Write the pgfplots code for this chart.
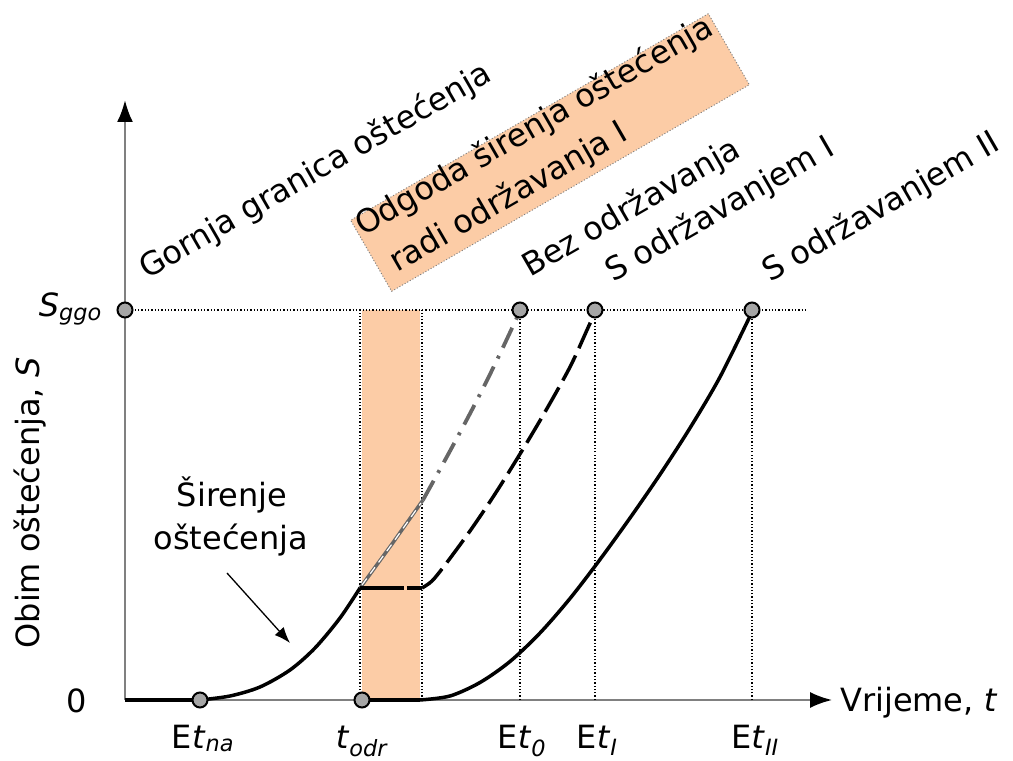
\documentclass[border=0pt]{standalone}
\usepackage{fontspec}
\setmainfont{DejaVu Sans}[ItalicFont={DejaVu Sans Oblique}]
\usepackage{pgfplots}
\pgfplotsset{compat=1.18}
\usetikzlibrary{arrows.meta}
\definecolor{peach}{RGB}{252,204,166}
\begin{document}
\begin{tikzpicture}[lab/.style={font=\fontsize{32}{38}\selectfont, inner sep=0pt}]
\begin{axis}[
  x=1pt, y=1pt,
  xmin=125, xmax=832, ymin=61, ymax=661,
  axis lines=left,
  clip=false,
  xtick=\empty, ytick=\empty,
  x axis line style={draw=gray, line width=2pt, -{Latex[black,length=22pt,width=16pt]}},
  y axis line style={draw=gray, line width=2.5pt, -{Latex[black,length=22pt,width=16pt]}},
]
% bounding box of the whole figure
\path (axis cs:0,0) rectangle (axis cs:1013,761);

% maintenance delay band
\addplot[fill=peach, draw=none] coordinates {(362,61) (420,61) (420,451) (362,451)} -- cycle;

% dotted guides
\addplot[black, dotted, line width=1.3pt] coordinates {(125,451) (805,451)};
\addplot[black, dotted, line width=1.3pt] coordinates {(360,61) (360,451)};
\addplot[black, dotted, line width=1.3pt] coordinates {(422,61) (422,451)};
\addplot[black, dotted, line width=1.3pt] coordinates {(520,61) (520,451)};
\addplot[black, dotted, line width=1.3pt] coordinates {(595,61) (595,451)};
\addplot[black, dotted, line width=1.3pt] coordinates {(752,61) (752,451)};

% no maintenance (gray)
\addplot[gray!80!black, line width=3.5pt] coordinates {(360,173) (392,217) (423,261)};
\addplot[white, line width=1.2pt, dash pattern=on 8pt off 6pt] coordinates {(362,176) (392,217) (421,258)};
\addplot[gray!80!black, line width=3.8pt, dash pattern=on 22pt off 9pt on 3pt off 9pt, smooth] coordinates {(423,261) (450,310) (475,357) (497,401) (520,450)};

% maintenance I (dashed black)
\addplot[black, line width=3.5pt] coordinates {(360,173) (404,173)};
\addplot[black, line width=3.5pt] coordinates {(407,173) (422,173)};
\addplot[black, line width=3.5pt, dash pattern=on 28pt off 8pt, smooth] coordinates {(422,173) (432,180) (445,196) (470,230) (495,267) (520,307) (545,349) (570,394) (587,431) (595,449)};

% base damage growth
\addplot[black, line width=3.5pt] coordinates {(125,61) (200,61)};
\addplot[black, line width=3.5pt, smooth] coordinates {(200,61) (230,65) (260,74) (290,91) (315,113) (340,143) (360,173)};

% maintenance II
\addplot[black, line width=3.5pt] coordinates {(362,61) (420,61)};
\addplot[black, line width=3.5pt, smooth] coordinates {(420,61) (450,65) (480,78.5) (510,99.5) (540,128) (570,162.5) (600,201.5) (630,243) (660,286.5) (690,333) (720,384) (752,449)};

% markers
\addplot[only marks, mark=*, mark size=7.5pt, mark options={fill=gray!70, draw=black, line width=2pt}]
  coordinates {(125,451) (520,451) (595,451) (752,451) (200,61) (362,61)};

% annotation arrow
\draw[-{Latex[length=16pt,width=12pt]}, line width=1.3pt] (axis cs:227,188) -- (axis cs:290,118);
\node[lab, anchor=base] at (axis cs:232,254) {Širenje};
\node[lab, anchor=base] at (axis cs:231,211) {oštećenja};

% axis texts
\node[lab, anchor=base] at (axis cs:77,49) {0};
\node[lab, anchor=base east] at (axis cs:102,444) {\textit{S}\textsubscript{\textit{ggo}}};
\node[lab, anchor=base west] at (axis cs:840,50) {Vrijeme, \textit{t}};
\node[lab, rotate=90, anchor=center] at (axis cs:30,258) {Obim oštećenja, \textit{S}};

\node[lab, anchor=base] at (axis cs:203,13) {E\textit{t}\textsubscript{\textit{na}}};
\node[lab, anchor=base] at (axis cs:362,13) {\textit{t}\textsubscript{\textit{odr}}};
\node[lab, anchor=base] at (axis cs:522,13) {E\textit{t}\textsubscript{\textit{0}}};
\node[lab, anchor=base] at (axis cs:597,13) {E\textit{t}\textsubscript{\textit{I}}};
\node[lab, anchor=base] at (axis cs:755,13) {E\textit{t}\textsubscript{\textit{II}}};

% rotated labels
\node[lab, rotate=30, anchor=base west] at (axis cs:147,481) {Gornja granica oštećenja};
\node[rotate=30, fill=peach, draw=gray, dotted, line width=1pt, minimum width=413pt, minimum height=82pt, inner sep=0pt] at (axis cs:550,608.5) {};
\node[lab, rotate=30, anchor=base west] at (axis cs:363,524) {Odgoda širenja oštećenja};
\node[lab, rotate=30, anchor=base west] at (axis cs:397,488) {radi održavanja I};
\node[lab, rotate=30, anchor=base west] at (axis cs:530,483) {Bez održavanja};
\node[lab, rotate=30, anchor=base west] at (axis cs:613,478) {S održavanjem I};
\node[lab, rotate=30, anchor=base west] at (axis cs:770,478) {S održavanjem II};
\end{axis}
\end{tikzpicture}
\end{document}
